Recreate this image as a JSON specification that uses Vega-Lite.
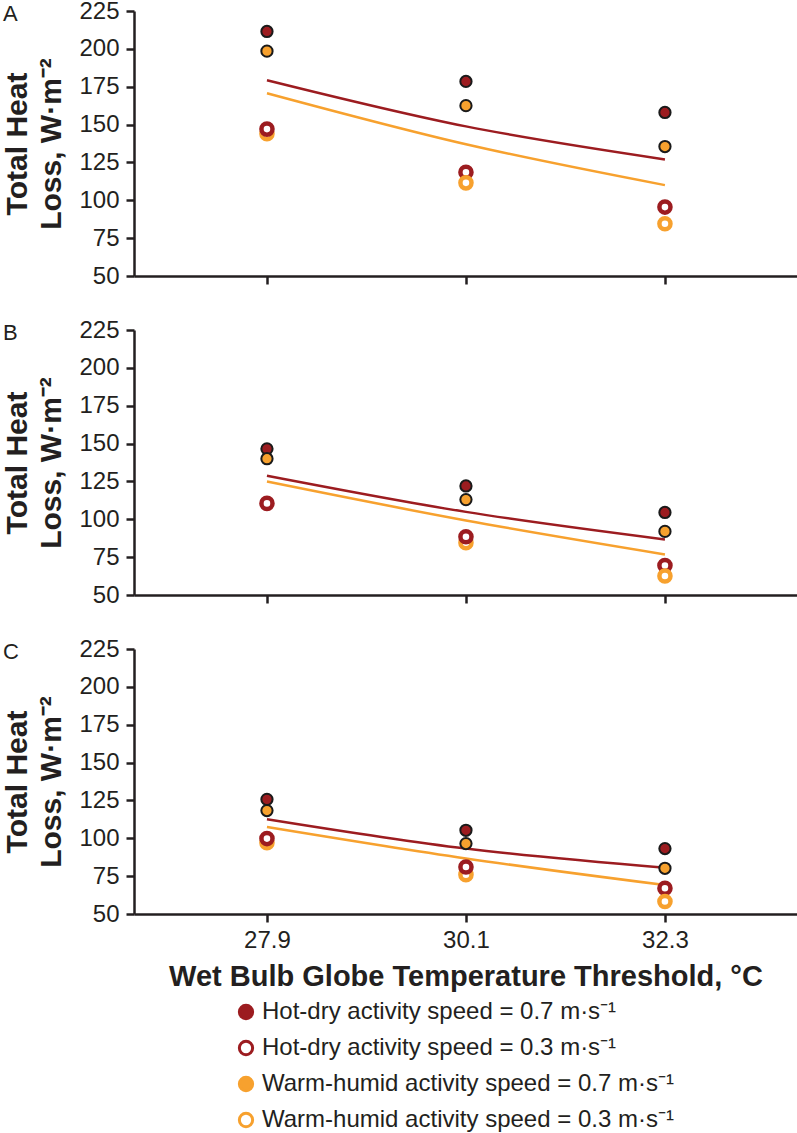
{
  "$schema": "https://vega.github.io/schema/vega-lite/v6.json",
  "padding": {"left": 2, "top": -1, "right": 0, "bottom": 0},
  "background": "white",
  "datasets": {
    "pts": [
      {"panel": "A", "wbgt": 27.9, "thl": 211.5, "speed": 0.7, "s": "Hot-dry activity speed = 0.7 m·s⁻¹"},
      {"panel": "A", "wbgt": 27.9, "thl": 198.5, "speed": 0.7, "s": "Warm-humid activity speed = 0.7 m·s⁻¹"},
      {"panel": "A", "wbgt": 27.9, "thl": 144, "speed": 0.3, "s": "Warm-humid activity speed = 0.3 m·s⁻¹"},
      {"panel": "A", "wbgt": 27.9, "thl": 147, "speed": 0.3, "s": "Hot-dry activity speed = 0.3 m·s⁻¹"},
      {"panel": "A", "wbgt": 30.1, "thl": 178.5, "speed": 0.7, "s": "Hot-dry activity speed = 0.7 m·s⁻¹"},
      {"panel": "A", "wbgt": 30.1, "thl": 162.5, "speed": 0.7, "s": "Warm-humid activity speed = 0.7 m·s⁻¹"},
      {"panel": "A", "wbgt": 30.1, "thl": 118.5, "speed": 0.3, "s": "Hot-dry activity speed = 0.3 m·s⁻¹"},
      {"panel": "A", "wbgt": 30.1, "thl": 111.5, "speed": 0.3, "s": "Warm-humid activity speed = 0.3 m·s⁻¹"},
      {"panel": "A", "wbgt": 32.3, "thl": 158, "speed": 0.7, "s": "Hot-dry activity speed = 0.7 m·s⁻¹"},
      {"panel": "A", "wbgt": 32.3, "thl": 135.5, "speed": 0.7, "s": "Warm-humid activity speed = 0.7 m·s⁻¹"},
      {"panel": "A", "wbgt": 32.3, "thl": 95.5, "speed": 0.3, "s": "Hot-dry activity speed = 0.3 m·s⁻¹"},
      {"panel": "A", "wbgt": 32.3, "thl": 84.5, "speed": 0.3, "s": "Warm-humid activity speed = 0.3 m·s⁻¹"},
      {"panel": "B", "wbgt": 27.9, "thl": 146.5, "speed": 0.7, "s": "Hot-dry activity speed = 0.7 m·s⁻¹"},
      {"panel": "B", "wbgt": 27.9, "thl": 140, "speed": 0.7, "s": "Warm-humid activity speed = 0.7 m·s⁻¹"},
      {"panel": "B", "wbgt": 27.9, "thl": 110.5, "speed": 0.3, "s": "Hot-dry activity speed = 0.3 m·s⁻¹"},
      {"panel": "B", "wbgt": 30.1, "thl": 122, "speed": 0.7, "s": "Hot-dry activity speed = 0.7 m·s⁻¹"},
      {"panel": "B", "wbgt": 30.1, "thl": 113, "speed": 0.7, "s": "Warm-humid activity speed = 0.7 m·s⁻¹"},
      {"panel": "B", "wbgt": 30.1, "thl": 84.5, "speed": 0.3, "s": "Warm-humid activity speed = 0.3 m·s⁻¹"},
      {"panel": "B", "wbgt": 30.1, "thl": 88.5, "speed": 0.3, "s": "Hot-dry activity speed = 0.3 m·s⁻¹"},
      {"panel": "B", "wbgt": 32.3, "thl": 104.5, "speed": 0.7, "s": "Hot-dry activity speed = 0.7 m·s⁻¹"},
      {"panel": "B", "wbgt": 32.3, "thl": 92, "speed": 0.7, "s": "Warm-humid activity speed = 0.7 m·s⁻¹"},
      {"panel": "B", "wbgt": 32.3, "thl": 69.5, "speed": 0.3, "s": "Hot-dry activity speed = 0.3 m·s⁻¹"},
      {"panel": "B", "wbgt": 32.3, "thl": 62.5, "speed": 0.3, "s": "Warm-humid activity speed = 0.3 m·s⁻¹"},
      {"panel": "C", "wbgt": 27.9, "thl": 125.7, "speed": 0.7, "s": "Hot-dry activity speed = 0.7 m·s⁻¹"},
      {"panel": "C", "wbgt": 27.9, "thl": 118.3, "speed": 0.7, "s": "Warm-humid activity speed = 0.7 m·s⁻¹"},
      {"panel": "C", "wbgt": 27.9, "thl": 97, "speed": 0.3, "s": "Warm-humid activity speed = 0.3 m·s⁻¹"},
      {"panel": "C", "wbgt": 27.9, "thl": 99.8, "speed": 0.3, "s": "Hot-dry activity speed = 0.3 m·s⁻¹"},
      {"panel": "C", "wbgt": 30.1, "thl": 105.3, "speed": 0.7, "s": "Hot-dry activity speed = 0.7 m·s⁻¹"},
      {"panel": "C", "wbgt": 30.1, "thl": 96.5, "speed": 0.7, "s": "Warm-humid activity speed = 0.7 m·s⁻¹"},
      {"panel": "C", "wbgt": 30.1, "thl": 76, "speed": 0.3, "s": "Warm-humid activity speed = 0.3 m·s⁻¹"},
      {"panel": "C", "wbgt": 30.1, "thl": 81, "speed": 0.3, "s": "Hot-dry activity speed = 0.3 m·s⁻¹"},
      {"panel": "C", "wbgt": 32.3, "thl": 93.2, "speed": 0.7, "s": "Hot-dry activity speed = 0.7 m·s⁻¹"},
      {"panel": "C", "wbgt": 32.3, "thl": 80.2, "speed": 0.7, "s": "Warm-humid activity speed = 0.7 m·s⁻¹"},
      {"panel": "C", "wbgt": 32.3, "thl": 67, "speed": 0.3, "s": "Hot-dry activity speed = 0.3 m·s⁻¹"},
      {"panel": "C", "wbgt": 32.3, "thl": 58.3, "speed": 0.3, "s": "Warm-humid activity speed = 0.3 m·s⁻¹"}
    ],
    "fits": [
      {"panel": "A", "env": "Hot-dry", "wbgt": 27.9, "thl": 179.3},
      {"panel": "A", "env": "Hot-dry", "wbgt": 30.1, "thl": 148.8},
      {"panel": "A", "env": "Hot-dry", "wbgt": 32.3, "thl": 127},
      {"panel": "A", "env": "Warm-humid", "wbgt": 27.9, "thl": 170.7},
      {"panel": "A", "env": "Warm-humid", "wbgt": 30.1, "thl": 137},
      {"panel": "A", "env": "Warm-humid", "wbgt": 32.3, "thl": 110},
      {"panel": "B", "env": "Hot-dry", "wbgt": 27.9, "thl": 128.8},
      {"panel": "B", "env": "Hot-dry", "wbgt": 30.1, "thl": 104.9},
      {"panel": "B", "env": "Hot-dry", "wbgt": 32.3, "thl": 86.7},
      {"panel": "B", "env": "Warm-humid", "wbgt": 27.9, "thl": 124.9},
      {"panel": "B", "env": "Warm-humid", "wbgt": 30.1, "thl": 99.2},
      {"panel": "B", "env": "Warm-humid", "wbgt": 32.3, "thl": 76.8},
      {"panel": "C", "env": "Hot-dry", "wbgt": 27.9, "thl": 112.6},
      {"panel": "C", "env": "Hot-dry", "wbgt": 30.1, "thl": 93.2},
      {"panel": "C", "env": "Hot-dry", "wbgt": 32.3, "thl": 80.5},
      {"panel": "C", "env": "Warm-humid", "wbgt": 27.9, "thl": 107.5},
      {"panel": "C", "env": "Warm-humid", "wbgt": 30.1, "thl": 86.7},
      {"panel": "C", "env": "Warm-humid", "wbgt": 32.3, "thl": 69.1}
    ]
  },
  "spacing": 30,
  "vconcat": [
    {
      "width": 663, "height": 265,
      "title": {"text": "A", "anchor": "start", "frame": "bounds", "baseline": "alphabetic", "offset": 0, "dy": 44},
      "encoding": {
        "x": {"field": "wbgt", "type": "quantitative", "scale": {"domain": [26.43, 33.76], "nice": false, "zero": false},
              "axis": {"values": [27.9, 30.1, 32.3], "labels": false, "title": null, "domainColor": "#231f20", "domainWidth": 2.5, "tickColor": "#231f20", "tickWidth": 2.5, "tickSize": 8, "grid": false}},
        "y": {"field": "thl", "type": "quantitative", "scale": {"domain": [50, 225], "nice": false, "zero": false},
              "axis": {"values": [50, 75, 100, 125, 150, 175, 200, 225], "labelOverlap": false, "labelFlush": false, "labelFont": "Liberation Sans", "labelFontSize": 24, "labelColor": "#231f20", "labelPadding": 7, "domainColor": "#231f20", "domainWidth": 2.5, "tickColor": "#231f20", "tickWidth": 2.5, "tickSize": 8, "grid": false,
                       "title": ["Total Heat", "Loss, W·m⁻²"], "titleFont": "Liberation Sans", "titleFontSize": 30, "titleFontWeight": "bold", "titleColor": "#231f20", "titleLineHeight": 34, "titlePadding": 12}}
      },
      "layer": [
        {"data": {"name": "fits"}, "transform": [{"filter": "datum.panel == 'A'"}],
         "mark": {"type": "line", "interpolate": "monotone", "strokeWidth": 2.5},
         "encoding": {"color": {"field": "env", "type": "nominal", "scale": {"domain": ["Hot-dry", "Warm-humid"], "range": ["#9c1c20", "#f7a12e"]}, "legend": null}}},
        {"data": {"name": "pts"}, "transform": [{"filter": "datum.panel == 'A' && datum.speed == 0.3"}],
         "mark": {"type": "point", "shape": "circle", "filled": false, "fill": "white", "strokeWidth": 4.5, "size": 123, "opacity": 1},
         "encoding": {"stroke": {"field": "s", "type": "nominal",
             "scale": {"domain": ["Hot-dry activity speed = 0.7 m·s⁻¹", "Hot-dry activity speed = 0.3 m·s⁻¹", "Warm-humid activity speed = 0.7 m·s⁻¹", "Warm-humid activity speed = 0.3 m·s⁻¹"], "range": ["#9c1c20", "#9c1c20", "#f7a12e", "#f7a12e"]},
             "legend": {
               "title": null, "orient": "none", "legendX": 100, "legendY": 989,
               "direction": "vertical", "symbolType": "circle", "symbolSize": 177, "symbolStrokeWidth": 3, "symbolOpacity": 1,
               "labelFontSize": 24, "labelFont": "Liberation Sans", "labelColor": "#231f20", "labelOffset": 4, "labelLimit": 600,
               "rowPadding": 10, "padding": 0,
               "encode": {"symbols": {"strokeWidth": {"value": 3}, "opacity": {"value": 1}}}
             }}}},
        {"data": {"name": "pts"}, "transform": [{"filter": "datum.panel == 'A' && datum.speed == 0.7"}],
         "mark": {"type": "point", "shape": "circle", "filled": true, "stroke": "#1a1a1a", "strokeWidth": 2, "size": 127, "opacity": 1},
         "encoding": {"fill": {"field": "s", "type": "nominal",
             "scale": {"domain": ["Hot-dry activity speed = 0.7 m·s⁻¹", "Hot-dry activity speed = 0.3 m·s⁻¹", "Warm-humid activity speed = 0.7 m·s⁻¹", "Warm-humid activity speed = 0.3 m·s⁻¹"], "range": ["#9c1c20", "#ffffff", "#f7a12e", "#ffffff"]},
             "legend": {
               "title": null, "orient": "none", "legendX": 100, "legendY": 989,
               "direction": "vertical", "symbolType": "circle", "symbolSize": 177, "symbolStrokeWidth": 3, "symbolOpacity": 1,
               "labelFontSize": 24, "labelFont": "Liberation Sans", "labelColor": "#231f20", "labelOffset": 4, "labelLimit": 600,
               "rowPadding": 10, "padding": 0,
               "encode": {"symbols": {"strokeWidth": {"value": 3}, "opacity": {"value": 1}}}
             }}}}
      ]
    },
    {
      "width": 663, "height": 265,
      "title": {"text": "B", "anchor": "start", "frame": "bounds", "baseline": "alphabetic", "offset": 0, "dy": 44},
      "encoding": {
        "x": {"field": "wbgt", "type": "quantitative", "scale": {"domain": [26.43, 33.76], "nice": false, "zero": false},
              "axis": {"values": [27.9, 30.1, 32.3], "labels": false, "title": null, "domainColor": "#231f20", "domainWidth": 2.5, "tickColor": "#231f20", "tickWidth": 2.5, "tickSize": 8, "grid": false}},
        "y": {"field": "thl", "type": "quantitative", "scale": {"domain": [50, 225], "nice": false, "zero": false},
              "axis": {"values": [50, 75, 100, 125, 150, 175, 200, 225], "labelOverlap": false, "labelFlush": false, "labelFont": "Liberation Sans", "labelFontSize": 24, "labelColor": "#231f20", "labelPadding": 7, "domainColor": "#231f20", "domainWidth": 2.5, "tickColor": "#231f20", "tickWidth": 2.5, "tickSize": 8, "grid": false,
                       "title": ["Total Heat", "Loss, W·m⁻²"], "titleFont": "Liberation Sans", "titleFontSize": 30, "titleFontWeight": "bold", "titleColor": "#231f20", "titleLineHeight": 34, "titlePadding": 12}}
      },
      "layer": [
        {"data": {"name": "fits"}, "transform": [{"filter": "datum.panel == 'B'"}],
         "mark": {"type": "line", "interpolate": "monotone", "strokeWidth": 2.5},
         "encoding": {"color": {"field": "env", "type": "nominal", "scale": {"domain": ["Hot-dry", "Warm-humid"], "range": ["#9c1c20", "#f7a12e"]}, "legend": null}}},
        {"data": {"name": "pts"}, "transform": [{"filter": "datum.panel == 'B' && datum.speed == 0.3"}],
         "mark": {"type": "point", "shape": "circle", "filled": false, "fill": "white", "strokeWidth": 4.5, "size": 123, "opacity": 1},
         "encoding": {"stroke": {"field": "s", "type": "nominal"}}},
        {"data": {"name": "pts"}, "transform": [{"filter": "datum.panel == 'B' && datum.speed == 0.7"}],
         "mark": {"type": "point", "shape": "circle", "filled": true, "stroke": "#1a1a1a", "strokeWidth": 2, "size": 127, "opacity": 1},
         "encoding": {"fill": {"field": "s", "type": "nominal"}}}
      ]
    },
    {
      "width": 663, "height": 265,
      "title": {"text": "C", "anchor": "start", "frame": "bounds", "baseline": "alphabetic", "offset": 0, "dy": 44},
      "encoding": {
        "x": {"field": "wbgt", "type": "quantitative", "scale": {"domain": [26.43, 33.76], "nice": false, "zero": false},
              "axis": {"values": [27.9, 30.1, 32.3], "format": ".1f", "labelFlush": false, "labelOverlap": false, "labelFont": "Liberation Sans", "labelFontSize": 24, "labelColor": "#231f20", "labelPadding": 6, "domainColor": "#231f20", "domainWidth": 2.5, "tickColor": "#231f20", "tickWidth": 2.5, "tickSize": 8, "grid": false,
                       "title": "Wet Bulb Globe Temperature Threshold, °C", "titleFont": "Liberation Sans", "titleFontSize": 29, "titleFontWeight": "bold", "titleColor": "#231f20", "titlePadding": 10}},
        "y": {"field": "thl", "type": "quantitative", "scale": {"domain": [50, 225], "nice": false, "zero": false},
              "axis": {"values": [50, 75, 100, 125, 150, 175, 200, 225], "labelOverlap": false, "labelFlush": false, "labelFont": "Liberation Sans", "labelFontSize": 24, "labelColor": "#231f20", "labelPadding": 7, "domainColor": "#231f20", "domainWidth": 2.5, "tickColor": "#231f20", "tickWidth": 2.5, "tickSize": 8, "grid": false,
                       "title": ["Total Heat", "Loss, W·m⁻²"], "titleFont": "Liberation Sans", "titleFontSize": 30, "titleFontWeight": "bold", "titleColor": "#231f20", "titleLineHeight": 34, "titlePadding": 12}}
      },
      "layer": [
        {"data": {"name": "fits"}, "transform": [{"filter": "datum.panel == 'C'"}],
         "mark": {"type": "line", "interpolate": "monotone", "strokeWidth": 2.5},
         "encoding": {"color": {"field": "env", "type": "nominal", "scale": {"domain": ["Hot-dry", "Warm-humid"], "range": ["#9c1c20", "#f7a12e"]}, "legend": null}}},
        {"data": {"name": "pts"}, "transform": [{"filter": "datum.panel == 'C' && datum.speed == 0.3"}],
         "mark": {"type": "point", "shape": "circle", "filled": false, "fill": "white", "strokeWidth": 4.5, "size": 123, "opacity": 1},
         "encoding": {"stroke": {"field": "s", "type": "nominal"}}},
        {"data": {"name": "pts"}, "transform": [{"filter": "datum.panel == 'C' && datum.speed == 0.7"}],
         "mark": {"type": "point", "shape": "circle", "filled": true, "stroke": "#1a1a1a", "strokeWidth": 2, "size": 127, "opacity": 1},
         "encoding": {"fill": {"field": "s", "type": "nominal"}}}
      ]
    }
  ],
  "config": {
    "font": "Liberation Sans",
    "view": {"stroke": null},
    "title": {"fontSize": 22, "fontWeight": "normal", "color": "#231f20", "font": "Liberation Sans"}
  }
}
